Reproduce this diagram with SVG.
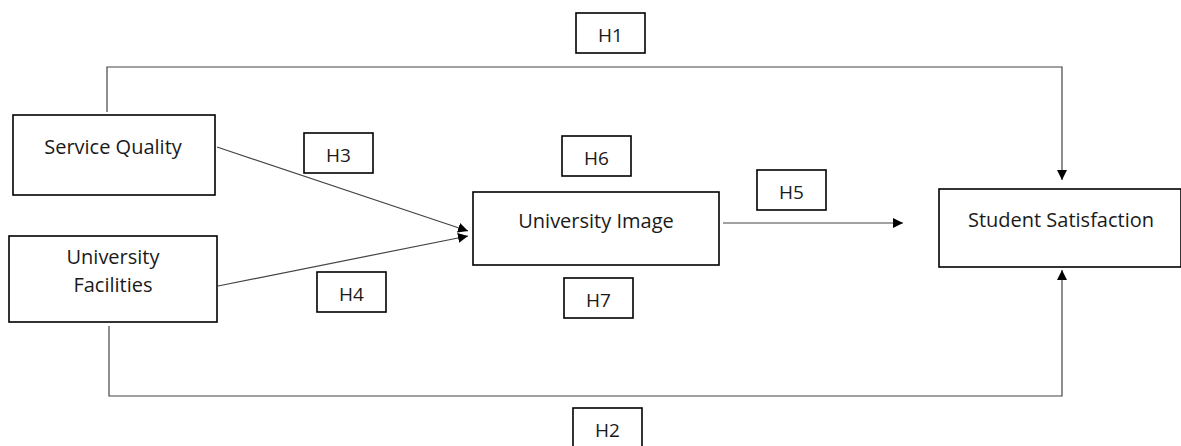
<svg xmlns="http://www.w3.org/2000/svg" width="1181" height="446" viewBox="0 0 1181 446">
<defs>
<marker id="arr" viewBox="0 0 10 10" refX="10" refY="5" markerWidth="10" markerHeight="10" markerUnits="userSpaceOnUse" orient="auto">
<path d="M0,0 L10,5 L0,10 Z" fill="#000"/>
</marker>
<style>
.box{fill:#fff;stroke:#000;stroke-width:1.6}
.t{font-family:"Open Sans","Liberation Sans",sans-serif;font-size:20px;fill:#1a1a1a;text-anchor:middle}
.h{font-size:19px}
.c{fill:none;stroke:#444;stroke-width:1.2}
</style>
</defs>
<rect width="1181" height="446" fill="#fff"/>
<g id="connectors">
<polyline class="c" points="107,112 107,67 1062,67 1062,180" marker-end="url(#arr)"/>
<polyline class="c" points="109,326 109,396 1062,396 1062,270" marker-end="url(#arr)"/>
<line class="c" x1="217" y1="147" x2="468" y2="231" marker-end="url(#arr)"/>
<line class="c" x1="218" y1="286" x2="468" y2="236" marker-end="url(#arr)"/>
<line class="c" x1="723" y1="223" x2="903" y2="223" marker-end="url(#arr)"/>
</g>
<g id="service-quality"><rect class="box" x="13" y="115" width="202" height="80"/><text class="t" x="113" y="154">Service Quality</text></g>
<g id="university-facilities"><rect class="box" x="9" y="236" width="208" height="86"/><text class="t" x="113" y="264">University</text><text class="t" x="113" y="292">Facilities</text></g>
<g id="university-image"><rect class="box" x="473" y="192" width="246" height="73"/><text class="t" x="596" y="228">University Image</text></g>
<g id="student-satisfaction"><rect class="box" x="939" y="189" width="242" height="78"/><text class="t" x="1061" y="227">Student Satisfaction</text></g>
<g id="h1"><rect class="box" x="576" y="13" width="69" height="40"/><text class="t h" x="610.5" y="42">H1</text></g>
<g id="h3"><rect class="box" x="304" y="133" width="69" height="40"/><text class="t h" x="338.5" y="162">H3</text></g>
<g id="h4"><rect class="box" x="317" y="272" width="69" height="40"/><text class="t h" x="351.5" y="301">H4</text></g>
<g id="h6"><rect class="box" x="562" y="136" width="69" height="40"/><text class="t h" x="596.5" y="165">H6</text></g>
<g id="h7"><rect class="box" x="564" y="278" width="69" height="40"/><text class="t h" x="598.5" y="307">H7</text></g>
<g id="h5"><rect class="box" x="757" y="170" width="69" height="40"/><text class="t h" x="791.5" y="199">H5</text></g>
<g id="h2"><rect class="box" x="573" y="408" width="69" height="40"/><text class="t h" x="607.5" y="437">H2</text></g>
</svg>
